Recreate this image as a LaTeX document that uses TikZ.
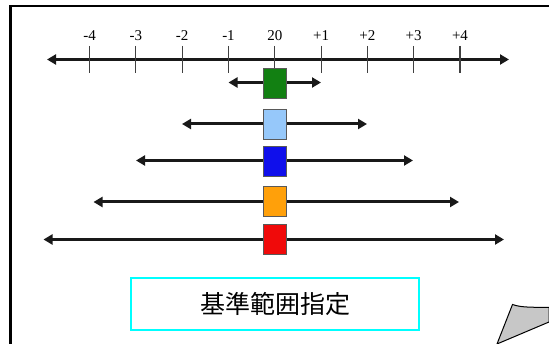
\documentclass[tikz,border=0pt]{standalone}
\usepackage{fontspec}
\setmainfont{Liberation Serif}
\newfontfamily\jpfont{Noto Sans CJK JP}
\usetikzlibrary{arrows.meta}
\definecolor{cgreen}{RGB}{18,128,18}
\definecolor{clblue}{RGB}{150,200,250}
\definecolor{cblue}{RGB}{15,15,235}
\definecolor{corange}{RGB}{255,160,10}
\definecolor{cred}{RGB}{240,10,10}
\definecolor{ccyan}{RGB}{0,255,255}
\tikzset{
  arr/.style={line width=3pt, draw=black!90, {Triangle[length=9pt,width=10pt]}-{Triangle[length=9pt,width=10pt]}},
  tickline/.style={line width=1.1pt, draw=black!75},
  ticklabel/.style={font=\fontsize{15}{15}\selectfont, inner sep=0pt, anchor=center},
  marker/.style={draw=black!65, line width=1pt, minimum width=23pt, minimum height=30pt, inner sep=0pt},
  frame/.style={line width=2.2pt, draw=black},
  titlebox/.style={draw=ccyan, line width=1.4pt, minimum width=288pt, minimum height=52pt, inner sep=0pt, font=\jpfont\fontsize{25}{25}\selectfont}
}
\begin{document}
\begin{tikzpicture}[x=1pt,y=-1pt]
\useasboundingbox (0,0) rectangle (549,344);
% frame
\draw[frame] (10.5,344) -- (10.5,6) -- (549,6);
% main number line
\coordinate (mL) at (47,59.5);
\coordinate (mR) at (509,59.5);
\draw[arr] (mL) -- (mR);
\foreach \i/\lab in {-4/-4,-3/-3,-2/-2,-1/-1,0/20,1/+1,2/+2,3/+3,4/+4}{
  \coordinate (t\i) at ({274.8+46.3*\i},46);
  \coordinate (b\i) at ({274.8+46.3*\i},73);
  \draw[tickline] (t\i) -- (b\i);
  \node[ticklabel] (lab\i) at ({274.8+46.3*\i},36) {\lab};
}
% green
\coordinate (gL) at (228.5,82.5);
\coordinate (gR) at (321,82.5);
\draw[arr] (gL) -- (gR);
\node[marker, fill=cgreen] (green) at (274.8,84) {};
% light blue
\coordinate (lbL) at (182,124);
\coordinate (lbR) at (367,124);
\draw[arr] (lbL) -- (lbR);
\node[marker, fill=clblue] (lblue) at (274.8,124.5) {};
% blue
\coordinate (bL) at (136,160.5);
\coordinate (bR) at (413,160.5);
\draw[arr] (bL) -- (bR);
\node[marker, fill=cblue] (blue) at (274.8,162) {};
% orange
\coordinate (oL) at (93.5,202);
\coordinate (oR) at (459,202);
\draw[arr] (oL) -- (oR);
\node[marker, fill=corange] (orange) at (274.8,202) {};
% red
\coordinate (rL) at (43.5,239.5);
\coordinate (rR) at (504,239.5);
\draw[arr] (rL) -- (rR);
\node[marker, fill=cred] (red) at (274.8,240) {};
% title box
\node[titlebox] (title) at (275,304) {基準範囲指定};
% page curl
\fill[black!22, draw=black, line width=1pt]
  (497,344) -- (512.5,304.5) .. controls (522,308) and (535,307) .. (549,307.5)
  -- (549,322) -- cycle;
\end{tikzpicture}
\end{document}
